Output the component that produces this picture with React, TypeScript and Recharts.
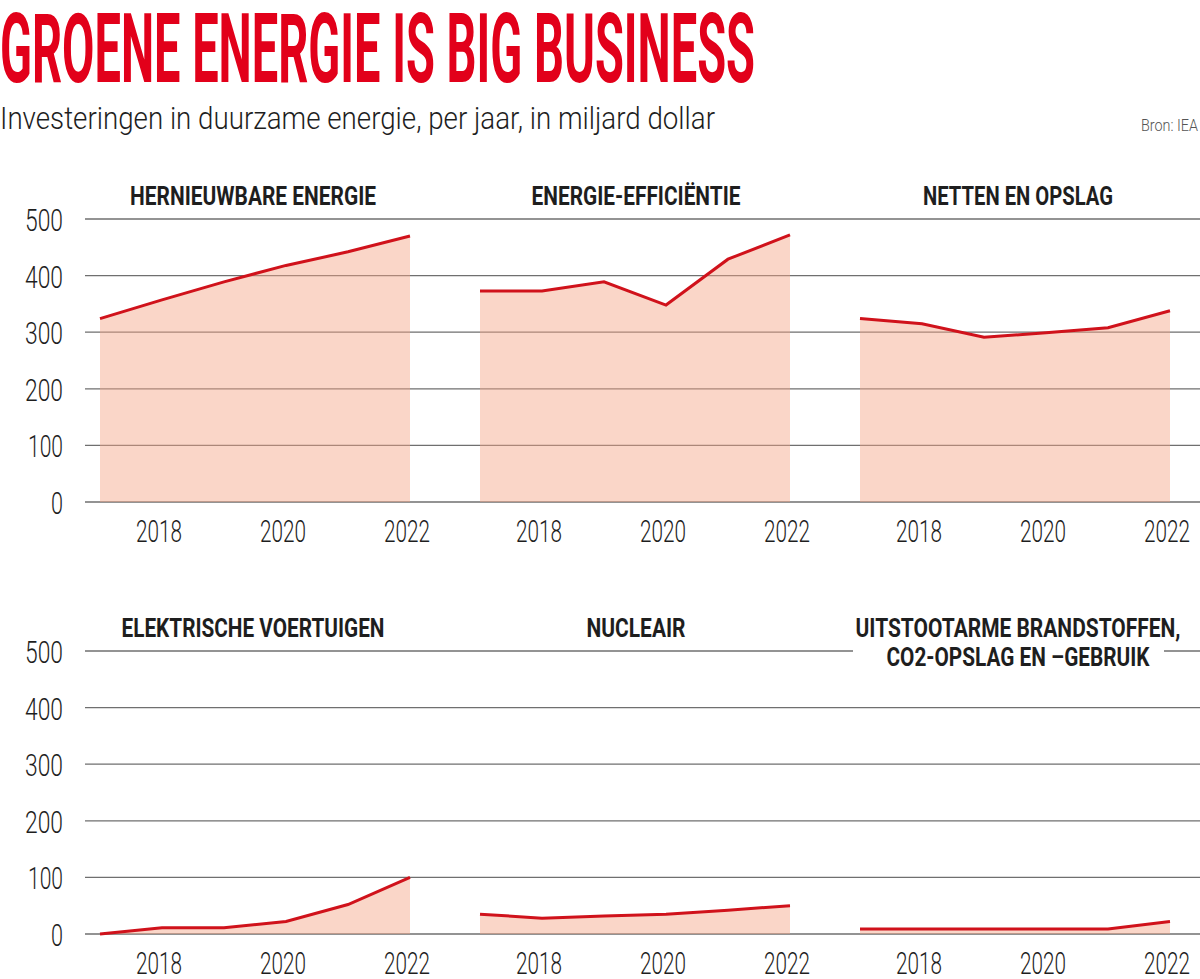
import React from 'react';
import { AreaChart, Area, XAxis, YAxis, CartesianGrid } from 'recharts';

// years on the x axis
const years = [2017, 2018, 2019, 2020, 2021, 2022];
const yearTicks = [2018, 2020, 2022];
const valueTicks = [0, 100, 200, 300, 400, 500];

// investment per year, billion dollar
const hernieuwbaar = [324, 357, 389, 418, 442, 470];
const efficientie = [373, 373, 389, 348, 429, 472];
const netten = [324, 315, 291, 299, 308, 338];
const elektrisch = [0, 11, 11, 22, 52, 100];
const nucleair = [35, 28, 32, 35, 42, 50];
const uitstootarm = [9, 9, 9, 9, 9, 22];

const RED = '#d0121b';
const FILL = '#f4a385';
const GRID = '#6f6f6f';
const TEXT = '#1e1e1e';
const FONT = 'Roboto, "Liberation Sans", sans-serif';

const PLOT_H = 283;
const TOP = 20;
const X_H = 56;

function toRows(values: number[]) {
  return years.map((year, i) => ({ year, value: values[i] }));
}

function XTick(props: any) {
  const { x, y, payload } = props;
  return (
    <text
      x={x - 3}
      y={y + 40}
      textAnchor="middle"
      textLength={46}
      lengthAdjust="spacingAndGlyphs"
      fontFamily={FONT}
      fontWeight={300}
      fontSize={32}
      fill={TEXT}
    >
      {payload.value}
    </text>
  );
}

function YTick(props: any) {
  const { x, y, payload } = props;
  const label = String(payload.value);
  const w = label.length === 1 ? 12 : label.startsWith('1') ? 35 : 38;
  return (
    <text
      x={x - 22}
      y={y + 12}
      textAnchor="end"
      textLength={w}
      lengthAdjust="spacingAndGlyphs"
      fontFamily={FONT}
      fontWeight={300}
      fontSize={32}
      fill={TEXT}
    >
      {label}
    </text>
  );
}

interface PanelProps {
  values: number[];
  left: number;
  top: number;
  width: number;
  withYAxis: boolean;
  padRight: number;
}

function Panel({ values, left, top, width, withYAxis, padRight }: PanelProps) {
  return (
    <div style={{ position: 'absolute', left, top }}>
      <AreaChart
        width={width}
        height={TOP + PLOT_H + X_H}
        data={toRows(values)}
        margin={{ top: TOP, right: 0, bottom: 0, left: 0 }}
        style={{ overflow: 'visible' }}
      >
        <CartesianGrid vertical={false} stroke={GRID} strokeWidth={1.3} />
        <XAxis
          dataKey="year"
          type="number"
          domain={[2017, 2022]}
          ticks={yearTicks}
          padding={{ left: 15, right: padRight }}
          axisLine={false}
          tickLine={false}
          tickSize={0}
          tickMargin={0}
          height={X_H}
          tick={<XTick />}
        />
        <YAxis
          domain={[0, 500]}
          ticks={valueTicks}
          hide={!withYAxis}
          width={85}
          axisLine={false}
          tickLine={false}
          tickSize={0}
          tickMargin={0}
          tick={<YTick />}
        />
        <Area
          type="linear"
          dataKey="value"
          stroke={RED}
          strokeWidth={3}
          fill={FILL}
          fillOpacity={0.45}
          isAnimationActive={false}
        />
      </AreaChart>
    </div>
  );
}

function Label({ x, y, w, children }: { x: number; y: number; w: number; children: string }) {
  return (
    <text
      x={x}
      y={y}
      textAnchor="middle"
      textLength={w}
      lengthAdjust="spacingAndGlyphs"
      fontFamily={FONT}
      fontWeight={700}
      fontSize={26}
      fill={TEXT}
    >
      {children}
    </text>
  );
}

export default function App() {
  const row1 = 219 - TOP;
  const row2 = 651 - TOP;
  return (
    <div
      style={{
        position: 'absolute',
        left: 0,
        top: 0,
        width: 1200,
        height: 979,
        overflow: 'hidden',
        background: '#fff',
      }}
    >
      <Panel values={hernieuwbaar} left={0} top={row1} width={465} withYAxis padRight={55} />
      <Panel values={efficientie} left={465} top={row1} width={380} withYAxis={false} padRight={55} />
      <Panel values={netten} left={845} top={row1} width={355} withYAxis={false} padRight={30} />
      <Panel values={elektrisch} left={0} top={row2} width={465} withYAxis padRight={55} />
      <Panel values={nucleair} left={465} top={row2} width={380} withYAxis={false} padRight={55} />
      <Panel values={uitstootarm} left={845} top={row2} width={355} withYAxis={false} padRight={30} />

      <svg
        width={1200}
        height={979}
        style={{ position: 'absolute', left: 0, top: 0, pointerEvents: 'none' }}
      >
        <text
          x={0}
          y={82}
          textLength={755}
          lengthAdjust="spacingAndGlyphs"
          fontFamily={FONT}
          fontWeight={700}
          fontSize={96}
          fill="#e2001a"
        >
          GROENE ENERGIE IS BIG BUSINESS
        </text>
        <text
          x={0}
          y={129}
          textLength={715}
          lengthAdjust="spacingAndGlyphs"
          fontFamily={FONT}
          fontWeight={300}
          fontSize={32}
          fill={TEXT}
        >
          Investeringen in duurzame energie, per jaar, in miljard dollar
        </text>
        <text
          x={1198}
          y={131}
          textAnchor="end"
          textLength={57}
          lengthAdjust="spacingAndGlyphs"
          fontFamily={FONT}
          fontWeight={300}
          fontSize={17}
          fill="#555"
        >
          Bron: IEA
        </text>

        <Label x={253} y={205} w={246}>HERNIEUWBARE ENERGIE</Label>
        <Label x={636} y={205} w={209}>ENERGIE-EFFICIËNTIE</Label>
        <Label x={1018} y={205} w={190}>NETTEN EN OPSLAG</Label>

        <Label x={253} y={637} w={263}>ELEKTRISCHE VOERTUIGEN</Label>
        <Label x={636} y={637} w={99}>NUCLEAIR</Label>
        <rect x={853} y={645} width={311} height={12} fill="#fff" />
        <Label x={1018} y={637} w={325}>UITSTOOTARME BRANDSTOFFEN,</Label>
        <Label x={1018} y={666} w={263}>CO2-OPSLAG EN –GEBRUIK</Label>
      </svg>
    </div>
  );
}
